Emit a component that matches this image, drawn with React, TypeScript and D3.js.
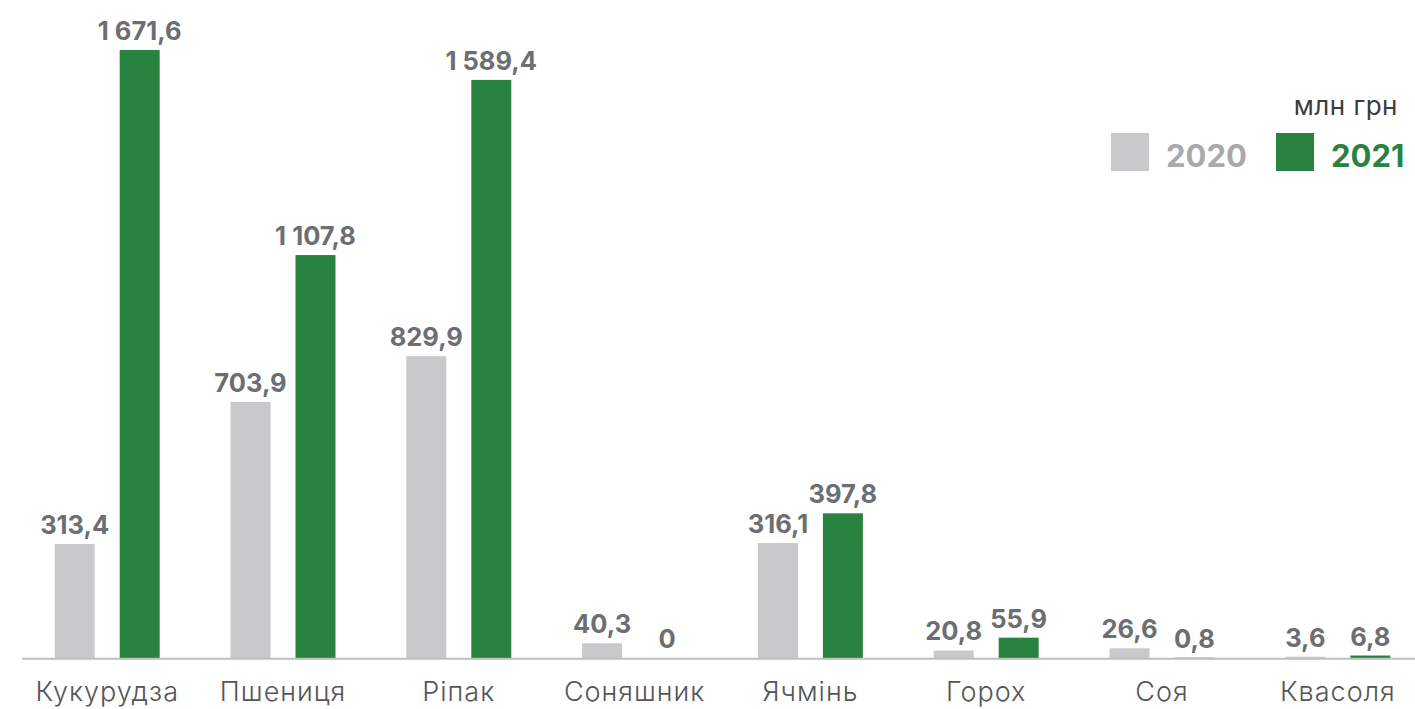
import React from "react";
import * as d3 from "d3";

const categories = ["Кукурудза", "Пшениця", "Ріпак", "Соняшник", "Ячмінь", "Горох", "Соя", "Квасоля"];
const values2020 = [313.4, 703.9, 829.9, 40.3, 316.1, 20.8, 26.6, 3.6];
const values2021 = [1671.6, 1107.8, 1589.4, 0, 397.8, 55.9, 0.8, 6.8];
const seriesNames = ["2020", "2021"];
const unitLabel = "млн грн";

const W = 1415;
const H = 709;
const FONT = "Inter, 'Open Sans', 'DejaVu Sans', sans-serif";
const colors: Record<string, string> = { "2020": "#c8c9cb", "2021": "#2a8240" };
const legendTextColors: Record<string, string> = { "2020": "#a7a9ac", "2021": "#2a8240" };

const locale = d3.formatLocale({ decimal: ",", thousands: " ", grouping: [3], currency: ["", ""] });
const fmt = locale.format(",.1f");
const fmtVal = (v: number) => (v === 0 ? "0" : fmt(v));

export default function App() {
  const x0 = d3.scaleBand<string>().domain(categories).range([19.3, 1425.7]).paddingInner(0.403).paddingOuter(0.2015);
  const x1 = d3.scaleBand<string>().domain(seriesNames).range([0, x0.bandwidth()]).paddingInner(0.3846).paddingOuter(0);
  const y = d3.scaleLinear().domain([0, 1671.6]).range([658, 50]);

  const data = categories.map((c, i) => ({ cat: c, vals: [values2020[i], values2021[i]] }));

  return (
    <svg width={W} height={H} style={{ position: "absolute", left: 0, top: 0, background: "#fff" }}>
      {data.map((d) => (
        <g key={d.cat} transform={`translate(${x0(d.cat)},0)`}>
          {d.vals.map((v, j) => {
            const s = seriesNames[j];
            const bx = x1(s)!;
            const top = y(v);
            return (
              <g key={s}>
                <rect x={bx} y={top} width={x1.bandwidth()} height={y(0) - top} fill={colors[s]} />
                <text
                  x={bx + x1.bandwidth() / 2}
                  y={top - 10}
                  textAnchor="middle"
                  fontFamily={FONT}
                  fontWeight={700}
                  fontSize={25.5}
                  fill="#6d6e71"
                >
                  {fmtVal(v)}
                </text>
              </g>
            );
          })}
          <text
            x={x0.bandwidth() / 2}
            y={701}
            textAnchor="middle"
            fontFamily={FONT}
            fontWeight={300}
            fontSize={27}
            letterSpacing={1}
            fill="#555557"
          >
            {d.cat}
          </text>
        </g>
      ))}
      <line x1={22} x2={W} y1={658.7} y2={658.7} stroke="#bcbec0" strokeWidth={2} />

      <text x={1398} y={115} textAnchor="end" fontFamily={FONT} fontSize={26} letterSpacing={0.5} fill="#3c3c3c">
        {unitLabel}
      </text>
      {seriesNames.map((s, i) => (
        <g key={s} transform={`translate(${1111 + i * 165},133)`}>
          <rect x={0} y={0} width={38} height={38} fill={colors[s]} />
          <text x={55} y={34} fontFamily={FONT} fontWeight={700} fontSize={31} fill={legendTextColors[s]}>
            {s}
          </text>
        </g>
      ))}
    </svg>
  );
}
